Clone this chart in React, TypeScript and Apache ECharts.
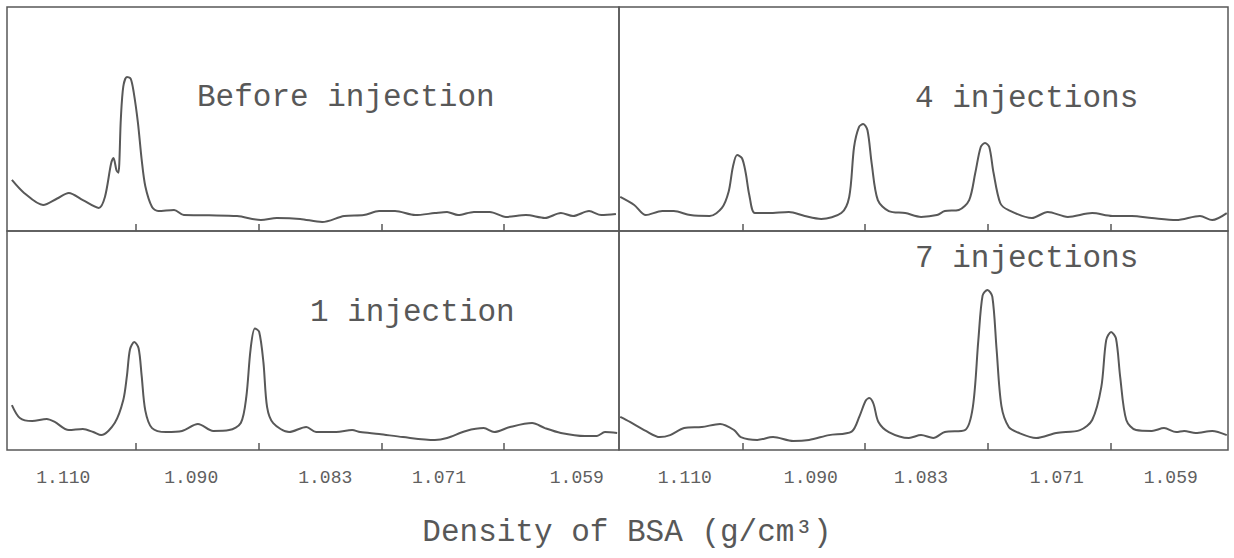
import React, { useEffect, useRef } from "react";
import * as echarts from "echarts";

// Gradient fractionation traces: [position along tube (0-100), absorbance (0-100)]
const beforeInjection: [number, number][] = [
  [0.8, 22.8], [2.8, 17.0], [5.9, 11.6], [8.2, 14.5], [10.1, 17.0], [12.4, 13.8],
  [15.0, 10.3], [16.0, 15.2], [17.0, 30.0], [17.4, 32.6], [17.9, 27.0], [18.2, 26.0],
  [18.6, 50.0], [19.0, 64.5], [19.6, 68.8], [20.2, 68.0], [20.7, 62.0], [21.4, 48.2],
  [22.0, 32.0], [22.6, 20.0], [23.7, 10.7], [24.7, 8.9], [27.3, 9.4], [28.9, 7.1],
  [33.0, 7.0], [37.6, 6.7], [41.5, 4.9], [44.1, 5.8], [47.9, 5.4], [51.5, 4.0],
  [55.1, 6.7], [58.3, 7.1], [60.8, 8.9], [63.4, 8.9], [66.7, 7.1], [69.9, 8.0],
  [71.9, 8.5], [73.7, 7.1], [76.3, 8.5], [78.9, 8.5], [81.5, 6.3], [84.8, 7.1],
  [87.9, 5.8], [90.5, 8.0], [92.5, 6.7], [95.1, 8.9], [97.1, 7.1], [99.5, 7.6],
];

const oneInjection: [number, number][] = [
  [0.8, 20.5], [2.1, 14.6], [4.1, 13.2], [6.5, 14.2], [7.8, 12.8], [10.1, 9.1],
  [12.4, 9.6], [14.1, 8.2], [15.4, 6.8], [17.6, 12.3], [19.0, 22.8], [19.6, 34.0],
  [20.1, 46.0], [20.8, 49.3], [21.5, 46.5], [22.0, 34.0], [22.6, 18.0], [23.7, 10.0],
  [26.0, 8.2], [28.6, 8.7], [31.2, 11.9], [33.7, 8.7], [36.3, 9.1], [38.2, 12.3],
  [39.1, 24.2], [39.8, 46.0], [40.5, 55.5], [41.2, 54.0], [41.9, 40.0], [42.5, 19.6],
  [43.5, 12.3], [46.1, 8.2], [48.9, 10.5], [50.5, 8.2], [53.8, 8.2], [56.4, 9.1],
  [57.7, 8.2], [60.8, 7.3], [64.7, 5.9], [69.9, 4.6], [71.9, 5.5], [75.0, 8.7],
  [77.9, 10.0], [79.6, 8.2], [82.2, 10.5], [85.8, 12.3], [87.9, 10.0], [90.5, 7.8],
  [94.4, 6.4], [96.4, 6.4], [97.7, 8.2], [99.7, 7.8],
];

const fourInjections: [number, number][] = [
  [0.2, 15.2], [2.5, 11.6], [4.4, 7.1], [7.1, 8.9], [9.0, 8.9], [11.7, 7.1],
  [14.9, 6.7], [16.9, 10.3], [18.0, 17.5], [18.7, 28.6], [19.4, 33.9], [20.2, 32.5],
  [20.8, 26.0], [21.4, 16.0], [22.3, 8.0], [24.6, 8.0], [27.9, 8.5], [30.5, 6.7],
  [33.2, 5.4], [36.5, 8.0], [37.8, 15.2], [38.6, 37.5], [39.4, 46.4], [40.1, 47.8],
  [40.8, 45.0], [41.5, 30.0], [42.5, 13.8], [44.3, 8.9], [47.0, 8.0], [49.6, 6.3],
  [52.2, 7.1], [53.5, 8.9], [55.8, 9.4], [57.5, 13.8], [58.5, 25.9], [59.4, 37.5],
  [60.1, 39.3], [60.8, 37.5], [61.5, 26.0], [62.6, 12.5], [63.9, 9.4], [67.8, 5.8],
  [70.4, 8.5], [73.7, 6.3], [77.7, 8.0], [81.0, 6.7], [84.2, 6.7], [87.5, 5.8],
  [91.5, 4.9], [95.4, 6.7], [97.4, 4.9], [99.8, 8.0],
];

const sevenInjections: [number, number][] = [
  [0.2, 15.1], [1.8, 12.8], [4.4, 8.7], [6.7, 5.9], [8.4, 6.8], [10.7, 10.0],
  [13.6, 10.5], [16.6, 11.9], [18.9, 9.1], [20.0, 5.9], [22.7, 4.6], [25.3, 5.9],
  [28.6, 4.1], [31.2, 4.6], [34.5, 6.8], [38.2, 8.4], [39.5, 15.5], [40.5, 22.5],
  [41.1, 23.7], [41.8, 21.0], [42.6, 12.8], [44.3, 8.2], [47.6, 5.5], [49.6, 6.8],
  [51.6, 5.5], [53.5, 8.2], [56.8, 9.1], [58.1, 19.6], [59.0, 50.0], [59.7, 70.5],
  [60.5, 73.1], [61.3, 70.0], [62.0, 46.0], [62.8, 20.0], [64.0, 10.5], [65.5, 8.0],
  [68.5, 5.5], [71.8, 7.8], [75.7, 9.1], [77.7, 13.7], [79.2, 28.8], [80.0, 50.2],
  [80.8, 53.9], [81.6, 51.0], [82.3, 33.3], [83.3, 13.7], [84.9, 9.1], [87.5, 8.7],
  [89.5, 10.0], [91.5, 8.2], [92.8, 8.7], [94.7, 7.8], [97.4, 8.7], [99.8, 6.8],
];

// Panel titles
const panelTitles = ["Before injection", "4 injections", "1 injection", "7 injections"];

// Density tick labels shown under each lower panel
const densityLabels = ["1.110", "1.090", "1.083", "1.071", "1.059"];
const xAxisTitle = "Density of BSA (g/cm³)";

// Axis-unit placements of marks on the horizontal axes
const leftTickAt = [21.1, 41.2, 61.3, 81.2];
const rightTickAt = [20.3, 40.4, 60.5, 80.7];
const leftLabelAt = [9.2, 30.1, 52.0, 70.6, 93.1];
const rightLabelAt = [10.8, 31.5, 49.6, 71.9, 90.6];

const INK = "#585858";
const MONO = '"Liberation Mono", "DejaVu Sans Mono", monospace';

export default function App() {
  const ref = useRef<HTMLDivElement>(null);

  useEffect(() => {
    if (!ref.current) return;
    const chart = echarts.init(ref.current, undefined, { renderer: "svg" });

    const grids = [
      { left: 7, top: 7, width: 612, height: 224 },
      { left: 619, top: 7, width: 609, height: 224 },
      { left: 7, top: 231, width: 612, height: 219 },
      { left: 619, top: 231, width: 609, height: 219 },
    ];
    const traces = [beforeInjection, fourInjections, oneInjection, sevenInjections];
    const ticks = [leftTickAt, rightTickAt, leftTickAt, rightTickAt];
    const labels = [null, null, leftLabelAt, rightLabelAt];

    const titleAnchors = [
      { x: 197, y: 97 },
      { x: 915, y: 98 },
      { x: 310, y: 312 },
      { x: 915, y: 258 },
    ];

    const option: any = {
      animation: false,
      backgroundColor: "#ffffff",
      grid: grids.map((g) => ({
        ...g,
        show: true,
        borderColor: INK,
        borderWidth: 1.5,
        backgroundColor: "transparent",
        containLabel: false,
      })),
      xAxis: grids.map((_, i) => ({
        type: "value",
        gridIndex: i,
        min: 0,
        max: 100,
        axisLine: { show: false },
        splitLine: { show: false },
        axisTick: {
          show: true,
          inside: true,
          length: 7,
          customValues: ticks[i],
          lineStyle: { color: INK, width: 1.5 },
        },
        axisLabel: labels[i]
          ? {
              show: true,
              customValues: labels[i],
              hideOverlap: false,
              margin: 19,
              color: "#606060",
              fontFamily: MONO,
              fontSize: 18,
              formatter: (v: number) => {
                const idx = (labels[i] as number[]).indexOf(v);
                return idx >= 0 ? densityLabels[idx] : "";
              },
            }
          : { show: false },
      })),
      yAxis: grids.map((_, i) => ({
        type: "value",
        gridIndex: i,
        min: 0,
        max: 100,
        show: false,
      })),
      series: traces.map((d, i) => ({
        type: "line",
        xAxisIndex: i,
        yAxisIndex: i,
        data: d,
        showSymbol: false,
        smooth: 0.3,
        lineStyle: { color: INK, width: 2 },
        silent: true,
      })),
      graphic: [
        ...panelTitles.map((t, i) => ({
          type: "text",
          x: titleAnchors[i].x,
          y: titleAnchors[i].y,
          style: { text: t, fontFamily: MONO, fontSize: 31, fill: INK, verticalAlign: "middle" },
        })),
        {
          type: "text",
          x: 627,
          y: 532,
          style: {
            text: xAxisTitle,
            fontFamily: MONO,
            fontSize: 31,
            fill: INK,
            align: "center",
            verticalAlign: "middle",
          },
        },
      ],
    };

    chart.setOption(option);
    return () => chart.dispose();
  }, []);

  return (
    <div
      ref={ref}
      style={{ position: "absolute", left: 0, top: 0, width: 1234, height: 558 }}
    />
  );
}
